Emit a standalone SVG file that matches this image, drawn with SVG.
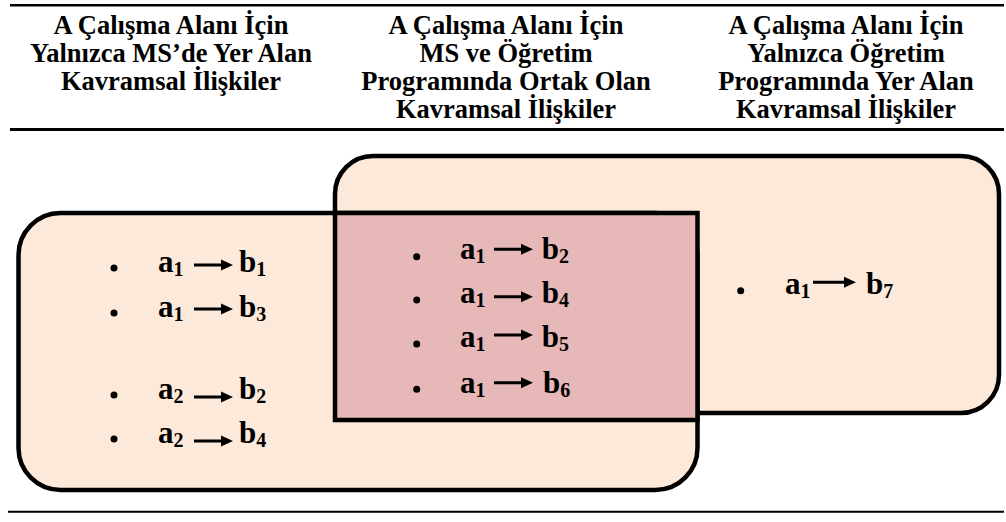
<svg xmlns="http://www.w3.org/2000/svg" width="1006" height="522" viewBox="0 0 1006 522">
<style>
.hd{font-family:"Liberation Serif","Times New Roman",serif;font-weight:bold;font-size:26.5px;fill:#000;text-anchor:middle}
.it{font-family:"Liberation Serif","Times New Roman",serif;font-weight:bold;font-size:31px;fill:#000}
.sub{font-size:20px}
.rule{stroke:#000;fill:none}
.box{fill:#fde9d9;stroke:#000;stroke-width:4.5}
.mid{fill:#e6b8b7;stroke:#000;stroke-width:4.5}
.arr{fill:#000}
.dot{fill:#000}
</style>
<rect width="1006" height="522" fill="#fff"/>
<g id="rules">
<line class="rule" x1="10" y1="5.3" x2="1004" y2="5.3" stroke-width="2.5"/>
<line class="rule" x1="10" y1="129.5" x2="1004" y2="129.5" stroke-width="3"/>
<line class="rule" x1="8" y1="511.8" x2="1004" y2="511.8" stroke-width="2"/>
</g>
<g id="header">
<text class="hd" x="171" y="34">A Çalışma Alanı İçin</text>
<text class="hd" x="171" y="62">Yalnızca MS’de Yer Alan</text>
<text class="hd" x="171" y="90">Kavramsal İlişkiler</text>
<text class="hd" x="506" y="34">A Çalışma Alanı İçin</text>
<text class="hd" x="506" y="62">MS ve Öğretim</text>
<text class="hd" x="506" y="90">Programında Ortak Olan</text>
<text class="hd" x="506" y="118">Kavramsal İlişkiler</text>
<text class="hd" x="846" y="34">A Çalışma Alanı İçin</text>
<text class="hd" x="846" y="62">Yalnızca Öğretim</text>
<text class="hd" x="846" y="90">Programında Yer Alan</text>
<text class="hd" x="846" y="118">Kavramsal İlişkiler</text>
</g>
<g id="program-only">
<rect class="box" x="335" y="156" width="664" height="257" rx="38" ry="38"/>
</g>
<g id="ms-only">
<rect class="box" x="18.5" y="213" width="679" height="277" rx="42" ry="42"/>
</g>
<g id="common">
<rect class="mid" x="335" y="213" width="362.5" height="207"/>
</g>
<g id="ms-only-items">
<circle class="dot" cx="114" cy="268" r="3.5"/>
<text class="it" x="158" y="272">a<tspan class="sub" dy="4">1</tspan></text>
<text class="it" x="239" y="272">b<tspan class="sub" dy="4">1</tspan></text>
<circle class="dot" cx="114" cy="313" r="3.5"/>
<text class="it" x="158" y="317">a<tspan class="sub" dy="4">1</tspan></text>
<text class="it" x="239" y="317">b<tspan class="sub" dy="4">3</tspan></text>
<circle class="dot" cx="114" cy="395" r="3.5"/>
<text class="it" x="158" y="399">a<tspan class="sub" dy="4">2</tspan></text>
<text class="it" x="239" y="399">b<tspan class="sub" dy="4">2</tspan></text>
<circle class="dot" cx="114" cy="439" r="3.5"/>
<text class="it" x="158" y="443">a<tspan class="sub" dy="4">2</tspan></text>
<text class="it" x="239" y="443">b<tspan class="sub" dy="4">4</tspan></text>
</g>
<g id="common-items">
<circle class="dot" cx="416.7" cy="256.7" r="3.5"/>
<text class="it" x="460" y="258.5">a<tspan class="sub" dy="4">1</tspan></text>
<text class="it" x="541.7" y="258.5">b<tspan class="sub" dy="4">2</tspan></text>
<circle class="dot" cx="416.7" cy="300" r="3.5"/>
<text class="it" x="460" y="303.3">a<tspan class="sub" dy="4">1</tspan></text>
<text class="it" x="541.7" y="303.3">b<tspan class="sub" dy="4">4</tspan></text>
<circle class="dot" cx="416.7" cy="344" r="3.5"/>
<text class="it" x="460" y="347.3">a<tspan class="sub" dy="4">1</tspan></text>
<text class="it" x="541.7" y="347.3">b<tspan class="sub" dy="4">5</tspan></text>
<circle class="dot" cx="416.7" cy="389.3" r="3.5"/>
<text class="it" x="460" y="393.3">a<tspan class="sub" dy="4">1</tspan></text>
<text class="it" x="543" y="393.3">b<tspan class="sub" dy="4">6</tspan></text>
</g>
<g id="program-only-items">
<circle class="dot" cx="740.7" cy="290.7" r="3.5"/>
<text class="it" x="785" y="294">a<tspan class="sub" dy="4">1</tspan></text>
<text class="it" x="866" y="294">b<tspan class="sub" dy="4">7</tspan></text>
</g>
<g id="connectors">
<path class="arr" d="M194,263.5 H221 V259.5 L233,265 L221,270.5 V266.5 H194 Z"/>
<path class="arr" d="M194,307.5 H221 V303.5 L233,309 L221,314.5 V310.5 H194 Z"/>
<path class="arr" d="M194,395.5 H221 V391.5 L233,397 L221,402.5 V398.5 H194 Z"/>
<path class="arr" d="M194,439.5 H221 V435.5 L233,441 L221,446.5 V442.5 H194 Z"/>
<path class="arr" d="M494,247.8 H521 V243.8 L533,249.3 L521,254.8 V250.8 H494 Z"/>
<path class="arr" d="M494,295.2 H521 V291.2 L533,296.7 L521,302.2 V298.2 H494 Z"/>
<path class="arr" d="M494,333.5 H521 V329.5 L533,335 L521,340.5 V336.5 H494 Z"/>
<path class="arr" d="M494,381.2 H521 V377.2 L533,382.7 L521,388.2 V384.2 H494 Z"/>
<path class="arr" d="M813,280.8 H844 V276.8 L856,282.3 L844,287.8 V283.8 H813 Z"/>
</g>
</svg>
